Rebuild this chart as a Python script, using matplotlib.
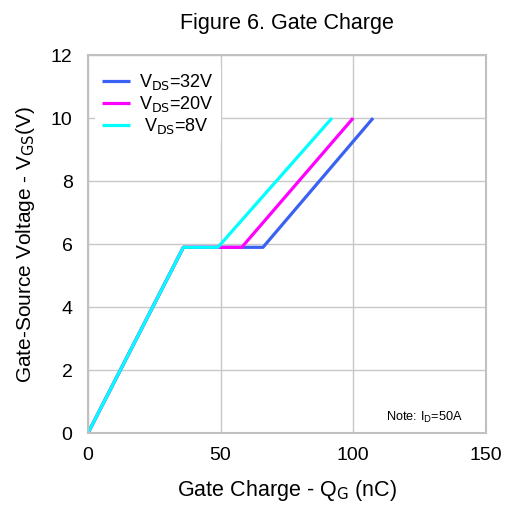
import matplotlib
matplotlib.use("Agg")
import matplotlib.pyplot as plt

plt.rcParams['font.family'] = ['Liberation Sans', 'DejaVu Sans']

series_labels = [r'V$_{\mathrm{DS}}$=32V', r'V$_{\mathrm{DS}}$=20V', r' V$_{\mathrm{DS}}$=8V']
series_colors = ['#3a62f2', '#ff00ff', '#00ffff']
qg_32 = [0, 36, 66, 107.5]
vgs_32 = [0, 5.9, 5.9, 10]
qg_20 = [0, 36, 58, 100]
vgs_20 = [0, 5.9, 5.9, 10]
qg_8 = [0, 36, 49, 92]
vgs_8 = [0, 5.9, 5.9, 10]
x_ticks = [0, 50, 100, 150]
y_ticks = [0, 2, 4, 6, 8, 10, 12]

fig = plt.figure(figsize=(5.05, 5.05), dpi=100)
ax = fig.add_axes([0.174, 0.142, 0.788, 0.749])

for xs, ys, c, lab in zip([qg_32, qg_20, qg_8], [vgs_32, vgs_20, vgs_8], series_colors, series_labels):
    ax.plot(xs, ys, color=c, lw=2.3, label=lab, solid_capstyle='butt')

ax.set_xlim(0, 150)
ax.set_ylim(0, 12)
ax.set_xticks(x_ticks)
ax.set_yticks(y_ticks)
ax.tick_params(axis='both', length=0, labelsize=14)
ax.tick_params(axis='y', pad=11)
ax.tick_params(axis='x', pad=10)
ax.grid(True, color='#c8c8c8', lw=1)
ax.set_axisbelow(True)
for s in ax.spines.values():
    s.set_color('#c0c0c0')
    s.set_linewidth(1.5)

ax.set_title('Figure 6. Gate Charge', fontsize=15.5, pad=19)
ax.set_xlabel(r'Gate Charge - Q$_{\mathrm{G}}$ (nC)', fontsize=15.5, labelpad=10)
ax.set_ylabel(r'Gate-Source Voltage - V$_{\mathrm{GS}}$(V)', fontsize=15, labelpad=10)

leg = ax.legend(loc='upper left', bbox_to_anchor=(-0.005, 0.997), frameon=True, fontsize=13,
                handlelength=1.55, handletextpad=0.5, labelspacing=0.1, borderpad=0.4)
leg.get_frame().set_edgecolor('none')
leg.get_frame().set_facecolor('white')
leg.get_frame().set_alpha(1)

ax.text(0.942, 0.022, r'Note: I$_{\mathrm{D}}$=50A', transform=ax.transAxes, fontsize=9.2,
        ha='right', va='bottom')

fig.savefig('out.png', dpi=100)
